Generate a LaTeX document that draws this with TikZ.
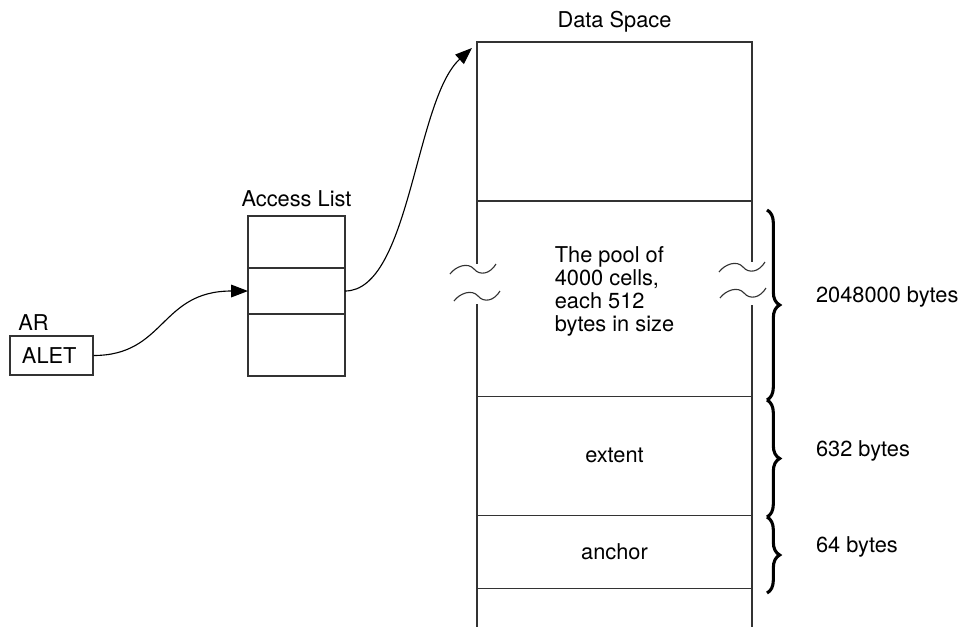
\documentclass[tikz,border=0pt]{standalone}
\usepackage{fontspec}
\setmainfont{TeX Gyre Heros}
\usetikzlibrary{positioning, arrows.meta, decorations.pathreplacing}
\tikzset{
  cell/.style={draw=black!80, line width=0.8pt, inner sep=0pt, outer sep=0pt, minimum width=6.875cm},
  slot/.style={draw=black!80, line width=0.8pt, inner sep=0pt, outer sep=0pt, minimum width=2.425cm},
  link/.style={-{Triangle[length=12pt, width=9pt]}, line width=0.8pt},
  sizebrace/.style={decorate, decoration={brace, amplitude=9pt}, line width=2.2pt},
  breakwave/.pic={\draw[line width=0.8pt, black!80] (0,0) .. controls (6,-8) and (18,-12) .. (24,-5)
    .. controls (30,2) and (40,0) .. (46,-10);}
}

\begin{document}
\begin{tikzpicture}[x=0.025cm, y=-0.025cm, font=\fontsize{15.5}{16.3}\selectfont]
  \useasboundingbox (0,0) rectangle (962,626);

  % data space
  \node[cell, minimum height=3.975cm] (top) at (614.5,121.5) {};
  \node[cell, minimum height=4.875cm, below=0pt of top] (pool) {};
  \node[cell, minimum height=2.975cm, below=0pt of pool] (extent) {extent};
  \node[cell, minimum height=1.825cm, below=0pt of extent] (anchor) {anchor};
  \draw[line width=0.8pt, black!80] (anchor.south west) -- ++(0,45);
  \draw[line width=0.8pt, black!80] (anchor.south east) -- ++(0,45);
  \node[above=0.12cm of top] (dslabel) {Data Space};
  \node[align=left] (pooltext) at ([yshift=0.17cm]pool.center) {The pool of\\4000 cells,\\each 512\\bytes in size};

  % breaks in the pool
  \fill[white] (474,264) rectangle (481,304);
  \fill[white] (749,262) rectangle (755,305);
  \pic at (450,274) {breakwave};
  \pic at (454,301) {breakwave};
  \pic at (719,272) {breakwave};
  \pic at (720,298) {breakwave};

  % sizes
  \draw[sizebrace] (767,210) -- (767,400)
    node[midway, right=1.07cm, yshift=0.2cm] (poolsize) {2048000 bytes};
  \draw[sizebrace] (767,400) -- (767,517)
    node[midway, right=1.07cm, yshift=0.2cm] (extentsize) {632 bytes};
  \draw[sizebrace] (767,517) -- (767,593)
    node[midway, right=1.07cm, yshift=0.2cm] (anchorsize) {64 bytes};

  % access list
  \node[slot, minimum height=1.3cm] (acc1) at (296.5,242) {};
  \node[slot, minimum height=1.15cm, below=0pt of acc1] (acc2) {};
  \node[slot, minimum height=1.55cm, below=0pt of acc2] (acc3) {};
  \node[above=0.1cm of acc1] (acclabel) {Access List};

  % AR
  \node[draw=black!80, line width=0.8pt, inner xsep=0.3cm, inner ysep=0pt, text width=1.475cm,
    align=left, minimum height=0.975cm] (alet) at (51.5,355.5) {ALET};
  \node[above right=0cm and 0.1cm of alet.north west] (arlabel) {AR};

  \draw[link] (alet.east) .. controls +(72,0) and +(-88,0) .. (acc2.west);
  \coordinate (dsentry) at ([xshift=-0.125cm, yshift=-0.15cm]top.north west);
  \draw[link] (acc2.east) .. controls +(65,0) and +(-57,52) .. (dsentry);
\end{tikzpicture}
\end{document}
